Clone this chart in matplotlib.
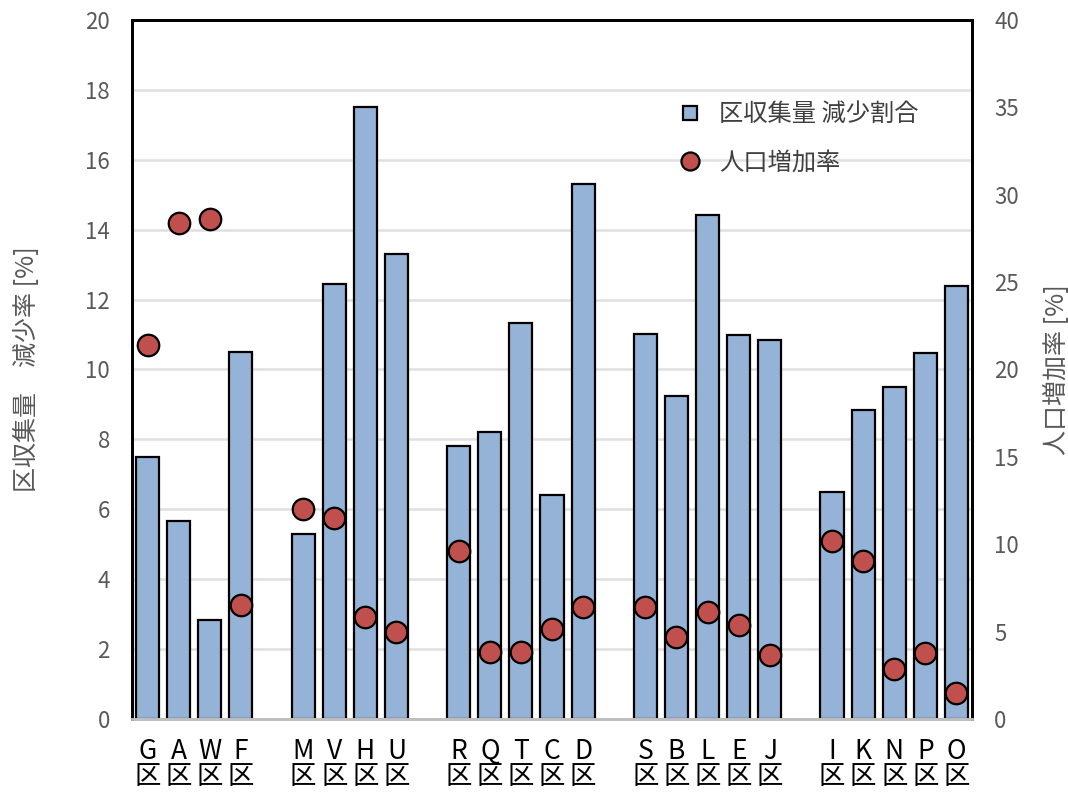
import numpy as np
import matplotlib.pyplot as plt
from matplotlib.lines import Line2D

plt.rcParams['font.family'] = ['Noto Sans CJK JP', 'DejaVu Sans']

# districts, grouped (a blank slot separates groups)
groups = [
    ['G', 'A', 'W', 'F'],
    ['M', 'V', 'H', 'U'],
    ['R', 'Q', 'T', 'C', 'D'],
    ['S', 'B', 'L', 'E', 'J'],
    ['I', 'K', 'N', 'P', 'O'],
]
# 区収集量 減少割合 [%]
decrease = [7.5, 5.67, 2.83, 10.5,
            5.3, 12.45, 17.5, 13.3,
            7.8, 8.2, 11.33, 6.4, 15.3,
            11.02, 9.23, 14.42, 11.0, 10.84,
            6.5, 8.85, 9.5, 10.46, 12.4]
# 人口増加率 [%]
pop_growth = [21.4, 28.4, 28.6, 6.5,
              12.0, 11.5, 5.85, 4.95,
              9.6, 3.85, 3.85, 5.15, 6.4,
              6.4, 4.7, 6.1, 5.4, 3.65,
              10.2, 9.05, 2.85, 3.8, 1.5]

# x positions with one empty slot between groups
xpos = []
labels = []
slot = 0
for g in groups:
    for name in g:
        xpos.append(slot)
        labels.append(name + '\n区')
        slot += 1
    slot += 1
xpos = np.array(xpos)

fig = plt.figure(figsize=(10.68, 7.98), dpi=100)
ax = fig.add_axes([0.1236, 0.099, 0.7865, 0.876])
ax2 = ax.twinx()

ax.set_axisbelow(True)
ax.yaxis.grid(True, color='#e0e0e0', linewidth=1.8)
ax.bar(xpos, decrease, width=0.74, color='#95B3D7', edgecolor='black', linewidth=1.6, zorder=2)
ax2.scatter(xpos, pop_growth, s=240, color='#C0504D', edgecolor='black', linewidth=1.6, zorder=3)

ax.set_xlim(-0.5, slot - 1 - 0.5)
ax.set_ylim(0, 20)
ax2.set_ylim(0, 40)
ax.set_yticks(np.arange(0, 21, 2))
ax2.set_yticks(np.arange(0, 41, 5))
ax.set_xticks(xpos)
ax.set_xticklabels(labels, fontsize=19, linespacing=0.9)

for a in (ax, ax2):
    a.tick_params(length=0)
    for s in ('left', 'right', 'top'):
        a.spines[s].set_color('black')
        a.spines[s].set_linewidth(2)
    a.spines['bottom'].set_color('#bfbfbf')
    a.spines['bottom'].set_linewidth(2)
ax.tick_params(axis='y', labelsize=16, labelcolor='#595959', pad=16)
ax2.tick_params(axis='y', labelsize=16, labelcolor='#595959', pad=16)
ax.tick_params(axis='x', pad=14)

ax.set_ylabel('区収集量　減少率 [%]', fontsize=18, color='#595959', labelpad=32)
ax2.set_ylabel('人口増加率 [%]', fontsize=18, color='#595959', labelpad=18)

handles = [
    Line2D([], [], linestyle='none', marker='s', markersize=10,
           markerfacecolor='#95B3D7', markeredgecolor='black', markeredgewidth=1.6),
    Line2D([], [], linestyle='none', marker='o', markersize=13,
           markerfacecolor='#C0504D', markeredgecolor='black', markeredgewidth=1.6),
]
ax2.legend(handles, ['区収集量 減少割合', '人口増加率'], loc='upper right',
           bbox_to_anchor=(0.962, 0.915), frameon=False, fontsize=17.5,
           handletextpad=0.2, labelspacing=0.9, labelcolor='#404040')

fig.savefig('out.png', dpi=100)
